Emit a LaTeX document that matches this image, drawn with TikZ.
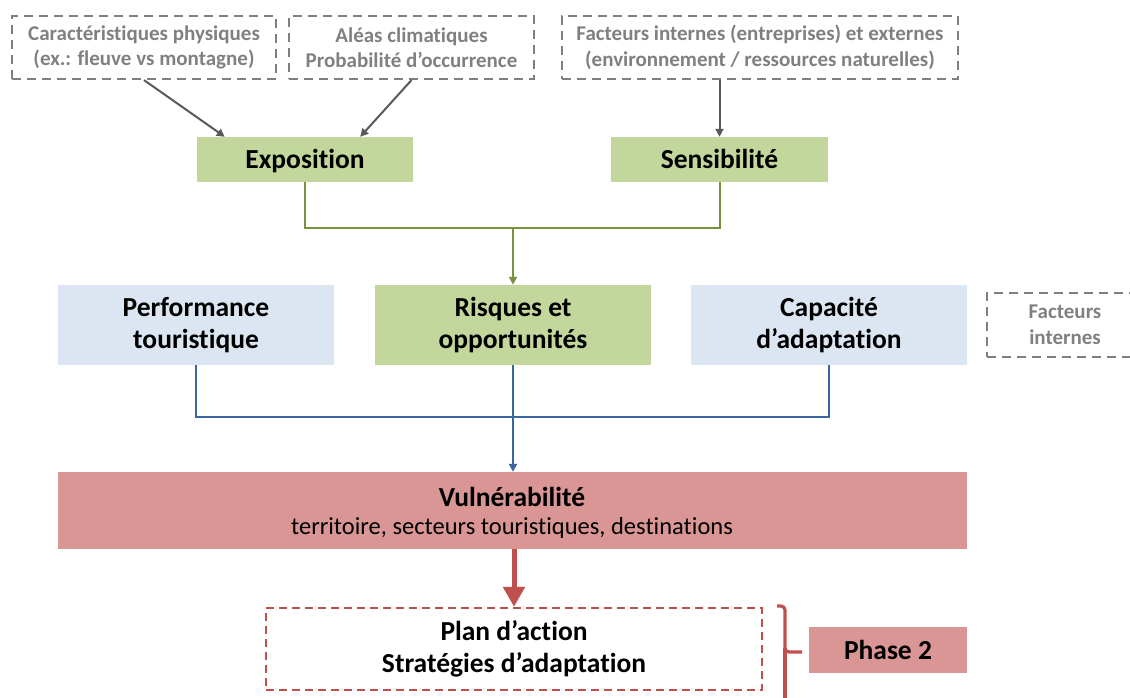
\documentclass[tikz,border=0pt]{standalone}
\usepackage{fontspec}
\setmainfont{Carlito}[Ligatures=NoCommon]
\usetikzlibrary{arrows.meta,calc}
\definecolor{greenfill}{HTML}{C3D69B}
\definecolor{greenline}{HTML}{77933C}
\definecolor{bluefill}{HTML}{DCE6F2}
\definecolor{blueline}{HTML}{3A65A0}
\definecolor{redfill}{HTML}{D99694}
\definecolor{redline}{HTML}{C0504D}
\definecolor{grayline}{HTML}{7F7F7F}
\definecolor{graytext}{HTML}{808080}
\definecolor{darkarrow}{HTML}{595959}
\tikzset{
  graybox/.style={draw=grayline, line width=2.2pt, dash pattern=on 9pt off 6pt, align=center, text=graytext, font=\fontsize{21}{25.5}\selectfont\bfseries, inner sep=0pt},
  greenbox/.style={fill=greenfill, draw=none, align=center, font=\fontsize{27.5}{31.5}\selectfont\bfseries, inner sep=0pt},
  bluebox/.style={fill=bluefill, draw=none, align=center, font=\fontsize{27.5}{31.5}\selectfont\bfseries, inner sep=0pt},
  oneline/.style={text height=23pt, text depth=5pt},
  redbox/.style={fill=redfill, draw=none, align=center, inner sep=0pt},
  plandash/.style={draw=redline, line width=2.3pt, dash pattern=on 8pt off 5pt, align=center, font=\fontsize{27.5}{32}\selectfont\bfseries, inner sep=0pt},
  grayarrow/.style={draw=darkarrow, line width=2pt, -{Triangle[width=8pt,length=8pt]}},
  greenconn/.style={draw=greenline, line width=2pt},
  blueconn/.style={draw=blueline, line width=2pt},
}
\begin{document}
\begin{tikzpicture}[x=1pt,y=-1pt]
\useasboundingbox (0,0) rectangle (1130,698);
% top dashed boxes
\node[graybox, minimum width=264pt, minimum height=63pt] (car) at (144,47.5) {Caractéristiques physiques\\(ex.: fleuve vs montagne)};
\node[graybox, minimum width=245pt, minimum height=63pt] (ale) at (411.5,47.5) {Aléas climatiques\\Probabilité d’occurrence};
\node[graybox, minimum width=396pt, minimum height=63pt] (fac) at (760,47.5) {Facteurs internes (entreprises) et externes\\(environnement / ressources naturelles)};
% green boxes
\node[greenbox, oneline, minimum width=216pt, minimum height=45pt] (expo) at (305,159.5) {Exposition};
\node[greenbox, oneline, minimum width=217pt, minimum height=45pt] (sens) at (719.5,159.5) {Sensibilité};
% row 2
\node[bluebox, minimum width=276pt, minimum height=80pt] (perf) at (196,325) {Performance\\touristique};
\node[greenbox, minimum width=276pt, minimum height=80pt] (risq) at (513,325) {Risques et\\opportunités};
\node[bluebox, minimum width=276pt, minimum height=80pt] (capa) at (829,325) {Capacité\\d’adaptation};
\node[graybox, minimum width=156pt, minimum height=64pt] (fint) at (1065,325) {Facteurs\\internes};
% vulnerability
\node[redbox, minimum width=909pt, minimum height=77pt] (vuln) at (512.5,510.5) {};
\node[font=\fontsize{27.5}{32}\selectfont\bfseries, inner sep=0pt] (vt) at (512,497) {Vulnérabilité};
\node[font=\fontsize{24.5}{28}\selectfont, inner sep=0pt] (vs) at (512,528) {territoire, secteurs touristiques, destinations};
% plan d'action
\node[plandash, minimum width=496pt, minimum height=82pt] (plan) at (514,649) {Plan d’action\\Stratégies d’adaptation};
\node[redbox, oneline, minimum width=158pt, minimum height=46pt, font=\fontsize{27.5}{32}\selectfont\bfseries] (phase) at (888,650) {Phase 2};
% gray arrows
\draw[grayarrow] (car.south) -- ($(expo.north west)+(28,0)$);
\draw[grayarrow] (ale.south) -- ($(expo.north east)+(-53,0)$);
\draw[grayarrow] (fac.south -| sens.north) -- (sens.north);
% green connectors
\coordinate (gj) at (513,228);
\draw[greenconn] (expo.south) |- (gj) -| (sens.south);
\draw[greenconn, -{Triangle[width=8pt,length=8pt]}] (gj) -- (risq.north);
% blue connectors
\coordinate (bj) at (513,417);
\draw[blueconn] (perf.south) |- (bj) -| (capa.south);
\draw[blueconn, -{Triangle[width=8pt,length=8pt]}] (risq.south) -- (vuln.north -| risq.south);
% red arrow
\draw[draw=redline, line width=5pt, -{Triangle[width=21pt,length=20pt]}] (vuln.south -| plan.north) -- (plan.north);
% brace
\coordinate (bt) at (777,606);
\coordinate (bm) at (802,652);
\coordinate (bb) at (785,720);
\draw[draw=redline, line width=3.2pt, rounded corners=4pt] (bt) -- (785,606) -- (785,652) -- (bm);
\draw[draw=redline, line width=3.2pt] (785,648) -- (bb);
\end{tikzpicture}
\end{document}
